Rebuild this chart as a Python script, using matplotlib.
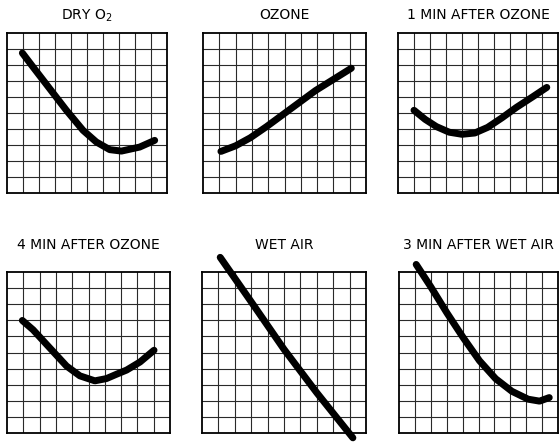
import matplotlib.pyplot as plt

# curves, in grid units (10 x 10 grid)
titles = ['DRY O$_2$', 'OZONE', '1 MIN AFTER OZONE',
          '4 MIN AFTER OZONE', 'WET AIR', '3 MIN AFTER WET AIR']

dry_x = [0.96, 1.63, 2.67, 3.71, 4.75, 5.58, 6.42, 7.15, 8.29, 9.23]
dry_y = [8.75, 7.87, 6.52, 5.17, 3.92, 3.19, 2.71, 2.62, 2.87, 3.29]

ozone_x = [1.1, 2.0, 2.9, 3.9, 4.9, 5.9, 6.9, 8.0, 9.1]
ozone_y = [2.6, 2.95, 3.45, 4.15, 4.9, 5.65, 6.4, 7.1, 7.8]

min1_x = [1.0, 1.7, 2.4, 3.2, 4.0, 4.8, 5.6, 6.5, 7.4, 8.4, 9.3]
min1_y = [5.17, 4.6, 4.15, 3.8, 3.67, 3.75, 4.1, 4.7, 5.35, 6.0, 6.6]

min4_x = [0.94, 1.6, 2.62, 3.65, 4.47, 5.39, 6.1, 6.72, 7.34, 8.16, 9.02]
min4_y = [6.99, 6.41, 5.29, 4.16, 3.55, 3.24, 3.38, 3.65, 3.91, 4.41, 5.14]

wet_x = [1.11, 3.0, 5.0, 7.0, 9.2]
wet_y = [10.91, 8.15, 5.2, 2.5, -0.3]

wet3_x = [1.08, 2.0, 3.02, 4.04, 5.06, 6.08, 7.1, 8.12, 8.84, 9.45]
wet3_y = [10.47, 9.08, 7.45, 5.92, 4.49, 3.37, 2.59, 2.1, 1.98, 2.2]

curves = [(dry_x, dry_y), (ozone_x, ozone_y), (min1_x, min1_y),
          (min4_x, min4_y), (wet_x, wet_y), (wet3_x, wet3_y)]

W, H = 560, 444
fig = plt.figure(figsize=(W / 100, H / 100), dpi=100)

# panel boxes in pixels: left, top, width, height
boxes = [(7, 33, 160, 160), (203, 33, 163, 160), (398, 33, 160, 160),
         (7, 272, 163, 161), (202, 272, 164, 161), (399, 272, 159, 161)]
pads = [10, 10, 10, 16.5, 16.5, 16.5]

for i in range(6):
    l, t, w, h = boxes[i]
    ax = fig.add_axes([l / W, (H - t - h) / H, w / W, h / H])
    ax.set_xlim(0, 10)
    ax.set_ylim(0, 10)
    for k in range(1, 10):
        ax.axvline(k, color='#2a2a2a', lw=0.8)
        ax.axhline(k, color='#2a2a2a', lw=0.8)
    for s in ax.spines.values():
        s.set_linewidth(1.3)
    ax.set_xticks([])
    ax.set_yticks([])
    x, y = curves[i]
    ax.plot(x, y, color='black', lw=5, solid_capstyle='round',
            solid_joinstyle='round', clip_on=False, zorder=5)
    ax.set_title(titles[i], fontsize=10, pad=pads[i])

plt.savefig('out.png', dpi=100)
